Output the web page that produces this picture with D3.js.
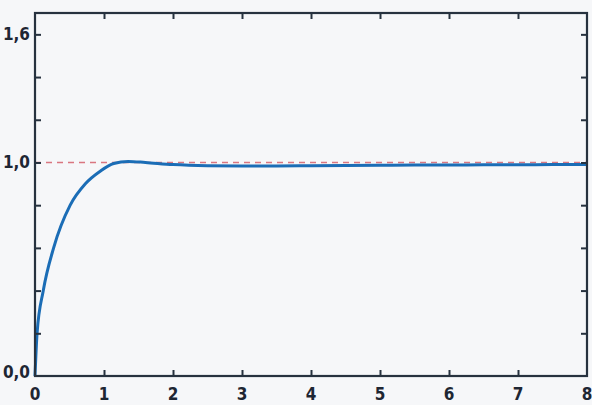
<!DOCTYPE html>
<html>
<head>
<meta charset="utf-8">
<script src="https://cdn.jsdelivr.net/npm/d3@7"></script>
<style>
  html, body { margin: 0; padding: 0; background: #f6f7f9; }
  svg { display: block; }
  .lbl { font-family: "DejaVu Sans Condensed", "DejaVu Sans", sans-serif; font-stretch: condensed; font-weight: bold; font-size: 17px; fill: #1e2633; }
</style>
</head>
<body>
<div id="chart"></div>
<script>
// step response
var times  = [0, 0.03, 0.12, 0.27, 0.51, 0.73, 0.95, 1.14, 1.35, 1.6, 2.0, 2.5, 3, 3.5, 4, 4.5, 5, 5.5, 6, 6.5, 7, 7.5, 8];
var values = [0, 0.2, 0.4, 0.6, 0.8, 0.9, 0.96, 0.995, 1.005, 1.0, 0.99, 0.985, 0.984, 0.984, 0.985, 0.986, 0.987, 0.988, 0.988, 0.989, 0.989, 0.99, 0.99];
var xTicks = [0, 1, 2, 3, 4, 5, 6, 7, 8];
var yTicks = [0.2, 0.4, 0.6, 0.8, 1.0, 1.2, 1.4, 1.6];
var yLabels = [0, 1.0, 1.6];
var refLevel = 1.0;

var W = 592, H = 405;
var margin = {top: 13, right: 5, bottom: 29, left: 35};
var w = W - margin.left - margin.right,
    h = H - margin.top - margin.bottom;

var svg = d3.select('#chart').append('svg')
    .attr('width', W)
    .attr('height', H);

var g = svg.append('g')
    .attr('transform', 'translate(' + margin.left + ',' + margin.top + ')');

var x = d3.scaleLinear().domain([0, 8]).range([0, w]);
var y = d3.scaleLinear().domain([0, 1.7]).range([h, 0]);

// reference line at 1.0
g.append('line')
    .attr('x1', x(0)).attr('x2', x(8))
    .attr('y1', y(refLevel)).attr('y2', y(refLevel))
    .attr('stroke', '#d97680')
    .attr('stroke-width', 1.4)
    .attr('stroke-dasharray', '6,5');

var line = d3.line()
    .curve(d3.curveMonotoneX)
    .x(function(d, i) { return x(times[i]); })
    .y(function(d) { return y(d); });

g.append('path')
    .datum(values)
    .attr('d', line)
    .attr('fill', 'none')
    .attr('stroke', '#1b6db6')
    .attr('stroke-width', 3)
    .attr('stroke-linejoin', 'round');

// frame + inward ticks
var axisColor = '#27323f';
var inner = xTicks.filter(function(t) { return t > 0 && t < 8; });

g.append('g')
    .attr('transform', 'translate(0,' + h + ')')
    .call(d3.axisTop(x).tickValues(inner).tickSize(6).tickFormat(''));
g.append('g')
    .call(d3.axisBottom(x).tickValues(inner).tickSize(6).tickFormat(''));
g.append('g')
    .call(d3.axisRight(y).tickValues(yTicks).tickSize(6).tickFormat(''));
g.append('g')
    .attr('transform', 'translate(' + w + ',0)')
    .call(d3.axisLeft(y).tickValues(yTicks).tickSize(6).tickFormat(''));

g.selectAll('.domain').remove();
g.selectAll('.tick line').attr('stroke', axisColor).attr('stroke-width', 2);

g.append('rect')
    .attr('width', w).attr('height', h)
    .attr('fill', 'none')
    .attr('stroke', axisColor)
    .attr('stroke-width', 2.2);

// labels
g.selectAll('.xl')
    .data(xTicks)
    .enter().append('text')
    .attr('class', 'lbl')
    .attr('x', function(d) { return x(d); })
    .attr('y', h + 24)
    .attr('text-anchor', 'middle')
    .text(function(d) { return d; });

var fmt = function(d) { return d3.format('.1f')(d).replace('.', ','); };
g.selectAll('.yl')
    .data(yLabels)
    .enter().append('text')
    .attr('class', 'lbl')
    .attr('x', -5)
    .attr('y', function(d) { return d === 0 ? y(d) + 2 : y(d) + 6; })
    .attr('text-anchor', 'end')
    .text(fmt);
</script>
</body>
</html>
